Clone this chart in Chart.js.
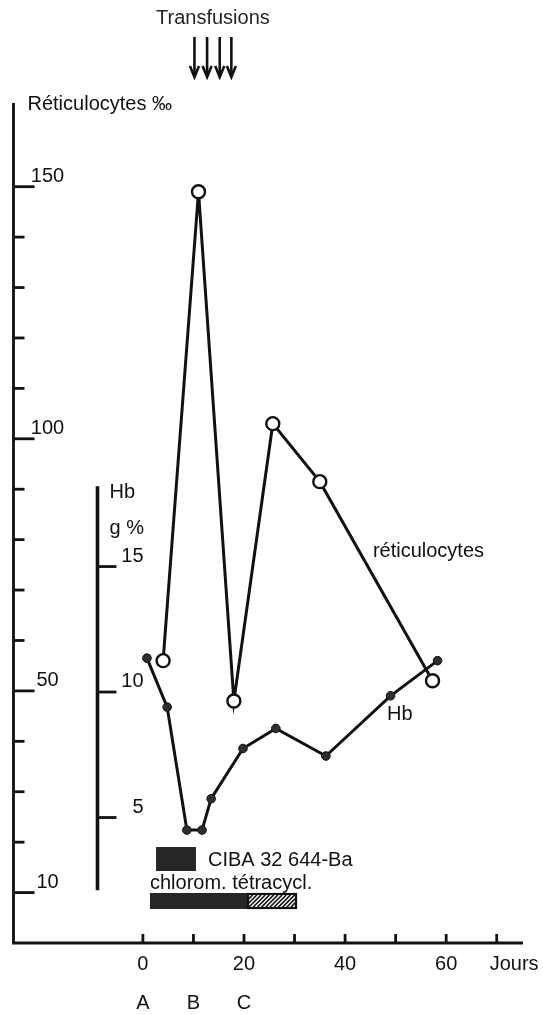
<!DOCTYPE html>
<html>
<head>
<meta charset="utf-8">
<script src="https://cdn.jsdelivr.net/npm/chart.js@4/dist/chart.umd.min.js"></script>
<style>
  html, body { margin: 0; padding: 0; background: #fff; }
  canvas { display: block; }
</style>
</head>
<body>
<canvas id="chart" width="543" height="1015"></canvas>
<script>
// values (days / reticulocytes ‰ / Hb g %)
const reticDays = [4, 11, 18, 25.7, 35, 57.3];
const reticValues = [56, 149, 48, 103, 91.5, 52];
const hbDays = [0.8, 4.8, 8.7, 11.7, 13.5, 19.8, 26.3, 36.2, 49, 58.3];
const hbValues = [11.35, 9.4, 4.5, 4.5, 5.75, 7.75, 8.55, 7.45, 9.85, 11.25];

const reticTicks = [10, 20, 30, 40, 50, 60, 70, 80, 90, 100, 110, 120, 130, 140, 150];
const reticLabels = [10, 50, 100, 150];
const hbTicks = [5, 10, 15];
const dayTicks = [0, 10, 20, 30, 40, 50, 60, 70];
const dayLabels = [0, 20, 40, 60];
const phaseDays = [0, 10, 20];
const phaseLabels = ['A', 'B', 'C'];
const transfusionDays = [10.2, 12.7, 15.2, 17.5];
const cibaRange = [2.6, 10.5];
const chloromRange = [1.4, 20.8];
const tetraRange = [20.8, 30.3];

const ink = '#111';
const font = "20px 'Liberation Sans', Arial, sans-serif";

function seg(ctx, x1, y1, x2, y2) {
  ctx.beginPath(); ctx.moveTo(x1, y1); ctx.lineTo(x2, y2); ctx.stroke();
}

const paperAxes = {
  id: 'paperAxes',
  beforeDatasetsDraw(chart) {
    const { ctx, scales: { x, y, hb } } = chart;
    const x0 = x.left;
    const base = y.getPixelForValue(0);
    ctx.save();
    ctx.strokeStyle = ink;
    ctx.fillStyle = ink;
    ctx.lineWidth = 2.8;
    ctx.font = font;

    // reticulocyte axis + day axis
    ctx.beginPath();
    ctx.moveTo(x0, y.top);
    ctx.lineTo(x0, base);
    ctx.lineTo(x.right, base);
    ctx.stroke();

    reticTicks.forEach(v => {
      const py = y.getPixelForValue(v);
      const big = reticLabels.includes(v);
      seg(ctx, x0, py, x0 + (big ? 21 : 11), py);
      if (big) {
        ctx.textAlign = 'center';
        ctx.fillText(String(v), x0 + 34, py - 5);
      }
    });

    dayTicks.forEach(d => {
      const px = x.getPixelForValue(d);
      seg(ctx, px, base, px, base - 9);
    });
    ctx.textAlign = 'center';
    dayLabels.forEach(d => ctx.fillText(String(d), x.getPixelForValue(d), base + 27));
    phaseDays.forEach((d, i) => ctx.fillText(phaseLabels[i], x.getPixelForValue(d), base + 66));
    ctx.textAlign = 'left';
    ctx.fillText('Jours', x.getPixelForValue(70) - 7, base + 27);

    // Hb axis
    const hx = x0 + 84;
    ctx.lineWidth = 3.6;
    seg(ctx, hx, hb.getPixelForValue(18.2), hx, hb.getPixelForValue(2.1));
    ctx.lineWidth = 2.8;
    hbTicks.forEach(v => {
      const py = hb.getPixelForValue(v);
      seg(ctx, hx, py, hx + 19, py);
      ctx.textAlign = 'right';
      ctx.fillText(String(v), hx + 46, py - 5);
    });
    ctx.textAlign = 'left';
    ctx.fillText('Hb', hx + 12, hb.getPixelForValue(17.75));
    ctx.fillText('g %', hx + 12, hb.getPixelForValue(16.3));

    ctx.fillText('Réticulocytes ‰', x0 + 14, y.top + 7);

    // treatment bars
    const bx = r => [x.getPixelForValue(r[0]), x.getPixelForValue(r[1])];
    const [c1, c2] = bx(cibaRange);
    ctx.fillStyle = '#262626';
    ctx.fillRect(c1, base - 96, c2 - c1, 24);
    ctx.fillStyle = ink;
    ctx.fillText('CIBA 32 644-Ba', c2 + 12, base - 77);
    const [d1, d2] = bx(chloromRange);
    const [t1, t2] = bx(tetraRange);
    ctx.fillText('chlorom. tétracycl.', d1, base - 54);
    ctx.fillStyle = '#262626';
    ctx.fillRect(d1, base - 50, d2 - d1, 16);
    ctx.save();
    ctx.beginPath();
    ctx.rect(t1, base - 50, t2 - t1, 16);
    ctx.clip();
    ctx.lineWidth = 1.7;
    for (let k = t1 - 20; k < t2 + 20; k += 4.2) seg(ctx, k, base - 36, k + 12, base - 48);
    ctx.restore();
    ctx.lineWidth = 2.2;
    ctx.strokeRect(t1, base - 49, t2 - t1, 14);

    // transfusions
    ctx.lineWidth = 2.6;
    transfusionDays.forEach(d => {
      const px = x.getPixelForValue(d);
      seg(ctx, px, 37, px, 76);
      ctx.beginPath();
      ctx.moveTo(px - 4.5, 66); ctx.lineTo(px, 77); ctx.lineTo(px + 4.5, 66);
      ctx.stroke();
    });
    ctx.textAlign = 'center';
    const mid = (x.getPixelForValue(transfusionDays[0]) + x.getPixelForValue(transfusionDays[3])) / 2;
    ctx.fillText('Transfusions', mid, 24);
    ctx.restore();
  },
  afterDraw(chart) {
    const { ctx, scales: { x, y, hb } } = chart;
    ctx.save();
    ctx.fillStyle = ink;
    ctx.font = font;
    ctx.textAlign = 'left';
    ctx.fillText('réticulocytes', x.getPixelForValue(45.5), y.getPixelForValue(76.5));
    ctx.fillText('Hb', x.getPixelForValue(48.3), hb.getPixelForValue(8.9));
    ctx.restore();
  }
};

new Chart(document.getElementById('chart'), {
  type: 'line',
  data: {
    datasets: [
      {
        label: 'Hb',
        yAxisID: 'hb',
        data: hbDays.map((d, i) => ({ x: d, y: hbValues[i] })),
        borderColor: ink,
        borderWidth: 3,
        pointRadius: 4.3,
        pointBackgroundColor: '#2e2e2e',
        pointBorderColor: ink,
        pointBorderWidth: 1,
        tension: 0,
        clip: false
      },
      {
        label: 'réticulocytes',
        yAxisID: 'y',
        data: reticDays.map((d, i) => ({ x: d, y: reticValues[i] })),
        borderColor: ink,
        borderWidth: 3,
        pointRadius: 6.5,
        pointBackgroundColor: '#fff',
        pointBorderColor: ink,
        pointBorderWidth: 2.4,
        tension: 0,
        clip: false
      }
    ]
  },
  options: {
    responsive: false,
    animation: false,
    events: [],
    layout: { padding: { left: 13.5, right: 20, top: 103, bottom: 72 } },
    plugins: { legend: { display: false }, tooltip: { enabled: false } },
    scales: {
      x: { type: 'linear', min: -25.6, max: 75.2, display: false },
      y: { type: 'linear', min: 0, max: 166.6, display: false },
      hb: { type: 'linear', min: 0, max: 33.47, display: false }
    }
  },
  plugins: [paperAxes]
});
</script>
</body>
</html>
